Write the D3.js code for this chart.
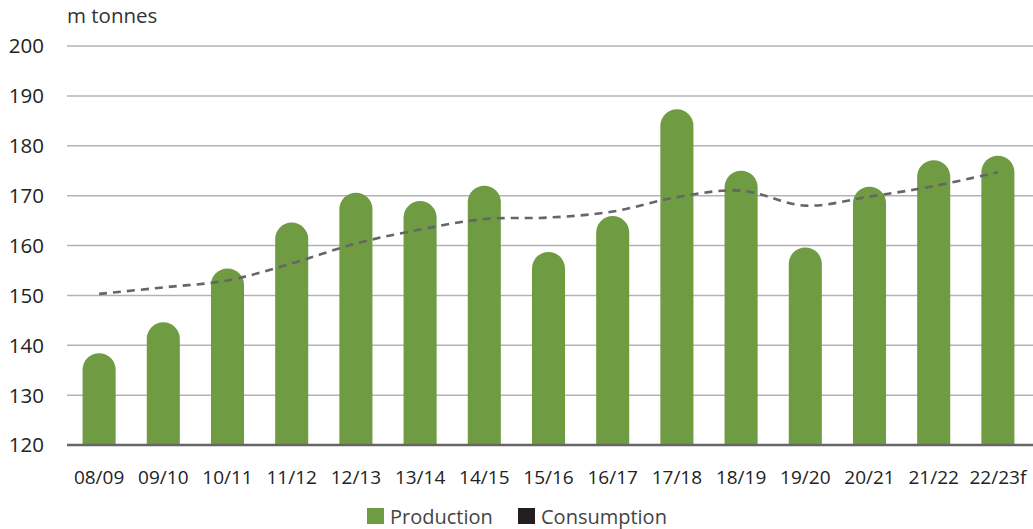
<!DOCTYPE html>
<html><head><meta charset="utf-8">
<script src="https://cdn.jsdelivr.net/npm/d3@7"></script>
<style>body{margin:0;background:#fff}svg{display:block;font-family:"Open Sans",sans-serif}</style>
</head><body><svg id="c" width="1033" height="529"></svg>
<script>
const categories = ["08/09","09/10","10/11","11/12","12/13","13/14","14/15","15/16","16/17","17/18","18/19","19/20","20/21","21/22","22/23f"];
const production = [138.4,144.6,155.4,164.6,170.6,168.9,172.0,158.7,165.9,187.3,175.0,159.6,171.8,177.1,178.0];
const consumption = [150.3,151.6,153.0,156.4,160.4,163.2,165.3,165.6,166.8,169.7,171.0,168.0,169.8,171.9,174.7];
const yTicks = [120,130,140,150,160,170,180,190,200];
const unitLabel = "m tonnes";
const legendItems = ["Production","Consumption"];

const svg = d3.select("#c");
const x = d3.scaleBand().domain(categories).range([67,1030]).paddingInner(0.485).paddingOuter(0.2425);
const y = d3.scaleLinear().domain([120,200]).range([445,46]);
const green = "#6f9b43";

svg.append("g").selectAll("line").data(yTicks.filter(d=>d>120)).join("line")
  .attr("x1",67).attr("x2",1033).attr("y1",d=>y(d)).attr("y2",d=>y(d))
  .attr("stroke","#b3b3b3").attr("stroke-width",1.5);

svg.append("g").selectAll("text").data(yTicks).join("text")
  .attr("x",44).attr("y",d=>y(d)).attr("dy","0.36em").attr("text-anchor","end")
  .attr("font-size",20.5).attr("fill","#222").text(d=>d);

svg.append("text").attr("x",67).attr("y",23).attr("font-size",20.5).attr("fill","#333").text(unitLabel);

const bw = x.bandwidth(), r = bw/2;
svg.append("g").selectAll("path").data(categories).join("path")
  .attr("fill",green)
  .attr("d",(c,i)=>{
    const x0 = x(c), top = y(production[i]), bot = y(120);
    return `M${x0},${bot}V${top+r}A${r},${r} 0 0 1 ${x0+bw},${top+r}V${bot}Z`;
  });

svg.append("line").attr("x1",67).attr("x2",1033).attr("y1",y(120)).attr("y2",y(120))
  .attr("stroke","#666").attr("stroke-width",2.5);

const line = d3.line().x((d,i)=>x(categories[i])+bw/2).y(d=>y(d)).curve(d3.curveCatmullRom.alpha(0.5));
svg.append("path").datum(consumption).attr("d",line).attr("fill","none")
  .attr("stroke","#666").attr("stroke-width",2.6).attr("stroke-dasharray","8,6");

svg.append("g").selectAll("text").data(categories).join("text")
  .attr("x",c=>x(c)+bw/2).attr("y",484).attr("text-anchor","middle")
  .attr("font-size",19).attr("fill","#222").text(c=>c);

const lg = svg.append("g");
const lx = [367,518], cols = [green,"#231f20"];
legendItems.forEach((t,i)=>{
  lg.append("rect").attr("x",lx[i]).attr("y",508).attr("width",17).attr("height",16).attr("fill",cols[i]);
  lg.append("text").attr("x",lx[i]+23).attr("y",524).attr("font-size",20).attr("fill","#444").text(t);
});
</script></body></html>
